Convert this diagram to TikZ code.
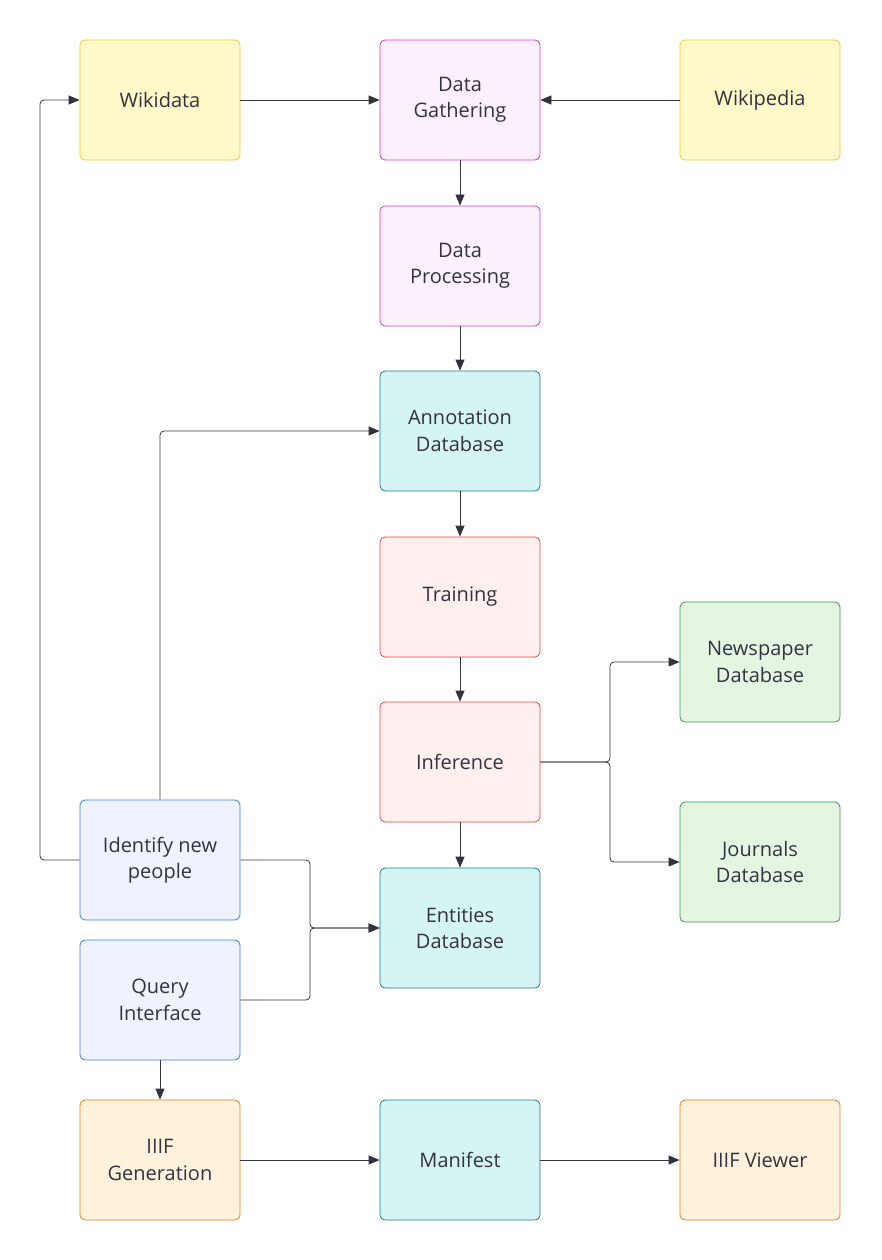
\documentclass[tikz,border=0pt]{standalone}
\usepackage{fontspec}
\setmainfont{Open Sans}
\usetikzlibrary{arrows.meta}
\definecolor{yF}{HTML}{FFF8C9}\definecolor{yD}{HTML}{F2C43C}
\definecolor{pF}{HTML}{FDF0FD}\definecolor{pD}{HTML}{D43DC0}
\definecolor{tF}{HTML}{D5F5F4}\definecolor{tD}{HTML}{18807D}
\definecolor{rF}{HTML}{FFEFEE}\definecolor{rD}{HTML}{E8473D}
\definecolor{gF}{HTML}{E4F6E2}\definecolor{gD}{HTML}{3A9A48}
\definecolor{bF}{HTML}{EEF3FF}\definecolor{bD}{HTML}{3B7FE0}
\definecolor{oF}{HTML}{FFF2DC}\definecolor{oD}{HTML}{E07B20}
\definecolor{txt}{HTML}{333340}
\begin{document}
\begin{tikzpicture}[x=1pt,y=-1pt,
 box/.style={draw,rounded corners=5pt,minimum width=160pt,minimum height=120pt,inner sep=0pt,align=center,text=txt,font=\fontsize{20}{26.5}\selectfont,line width=0.8pt},
 Y/.style={box,fill=yF,draw=yD},P/.style={box,fill=pF,draw=pD},T/.style={box,fill=tF,draw=tD},
 R/.style={box,fill=rF,draw=rD},G/.style={box,fill=gF,draw=gD},B/.style={box,fill=bF,draw=bD},O/.style={box,fill=oF,draw=oD},
 ar/.style={draw=txt,line width=0.8pt,-{Triangle[length=11pt,width=9pt]},rounded corners=4pt}]
\useasboundingbox (0,0) rectangle (881,1260);
\node[Y] (wd) at (160,100) {Wikidata};
\node[P] (dg) at (460,100) {Data\\Gathering};
\node[Y] (wp) at (760,100) {Wikipedia};
\node[P] (dp) at (460,266) {Data\\Processing};
\node[T] (ad) at (460,431) {Annotation\\Database};
\node[R] (tr) at (460,597) {Training};
\node[R] (inf) at (460,762) {Inference};
\node[G] (np) at (760,662) {Newspaper\\Database};
\node[G] (jd) at (760,862) {Journals\\Database};
\node[B] (id) at (160,860) {Identify new\\people};
\node[T] (ed) at (460,928) {Entities\\Database};
\node[B] (qi) at (160,1000) {Query\\Interface};
\node[O] (ig) at (160,1160) {IIIF\\Generation};
\node[T] (mf) at (460,1160) {Manifest};
\node[O] (iv) at (760,1160) {IIIF Viewer};
\draw[ar] (wd) -- (dg);
\draw[ar] (wp) -- (dg);
\draw[ar] (dg) -- (dp);
\draw[ar] (dp) -- (ad);
\draw[ar] (ad) -- (tr);
\draw[ar] (tr) -- (inf);
\draw[ar] (inf) -- (ed);
\draw[ar] (inf.east) -- (610,762) |- (np.west);
\draw[ar] (inf.east) -- (610,762) |- (jd.west);
\draw[ar] (id.west) -- (40,860) |- (wd.west);
\draw[ar] (id.north) |- (ad.west);
\draw[ar] (id.east) -- (310,860) |- (ed.west);
\draw[ar] (qi.east) -- (310,1000) |- (ed.west);
\draw[ar] (qi) -- (ig);
\draw[ar] (ig) -- (mf);
\draw[ar] (mf) -- (iv);
\end{tikzpicture}
\end{document}
